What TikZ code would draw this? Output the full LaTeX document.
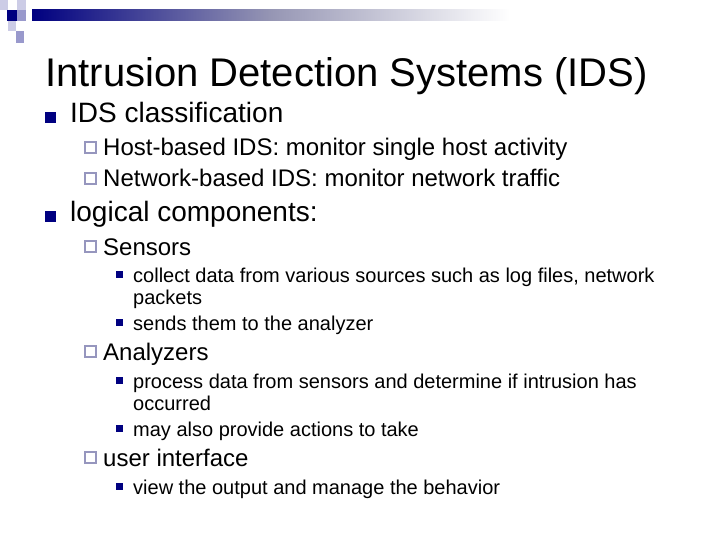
\documentclass[tikz,border=0pt]{standalone}
\usepackage{fontspec}
\setmainfont{Liberation Sans}
\definecolor{navy}{RGB}{0,0,128}
\definecolor{lav}{RGB}{204,204,230}
\definecolor{lavm}{RGB}{153,153,204}
\definecolor{lavs}{RGB}{150,150,190}
\definecolor{midg}{RGB}{150,150,180}
\begin{document}
\begin{tikzpicture}[x=1pt,y=-1pt,
  t/.style={anchor=base west,inner sep=0pt,text=black},
  b1/.style={fill=navy},
  b2/.style={draw=lavs,line width=1.2pt,fill=white},
  ]
\useasboundingbox (0,0) rectangle (720,540);
\fill[white] (0,0) rectangle (720,540);
% decoration
\fill[lav] (0,0) rectangle (8,10);
\fill[lav] (17,0) rectangle (26,10);
\fill[navy] (7,10) rectangle (17,21);
\fill[lavm] (17,10) rectangle (26,21);
\fill[lav] (8,21) rectangle (16,31);
\fill[lavm] (16,31) rectangle (24,43);
\shade[left color=navy,right color=white,middle color=midg] (32,10) rectangle (510,21);
% title
\node[t,font=\fontsize{40}{44}\selectfont] (title) at (45,87) {Intrusion Detection Systems (IDS)};
% level 1
\fill[b1] (45,112) rectangle (56,123);
\node[t,font=\fontsize{28}{32}\selectfont] (l1a) at (70,123) {IDS classification};
\fill[b1] (45,211) rectangle (56,222);
\node[t,font=\fontsize{28}{32}\selectfont] (l1b) at (70,222) {logical components:};
% level 2
\foreach \y/\s in {156/{Host-based IDS: monitor single host activity},187/{Network-based IDS: monitor network traffic},255/Sensors,360/Analyzers,466/user interface}{
  \draw[b2] (85,\y-14) rectangle (96,\y-3);
  \node[t,font=\fontsize{24}{28}\selectfont] at (103,\y) {\s};
}
% level 3
\foreach \y/\s in {282/{collect data from various sources such as log files, network},330/{sends them to the analyzer},388/{process data from sensors and determine if intrusion has},436/{may also provide actions to take},494/{view the output and manage the behavior}}{
  \fill[b1] (116,\y-11) rectangle (123,\y-4);
  \node[t,font=\fontsize{20}{24}\selectfont] at (133,\y) {\s};
}
\node[t,font=\fontsize{20}{24}\selectfont] at (133,304) {packets};
\node[t,font=\fontsize{20}{24}\selectfont] at (133,410) {occurred};
\end{tikzpicture}
\end{document}
